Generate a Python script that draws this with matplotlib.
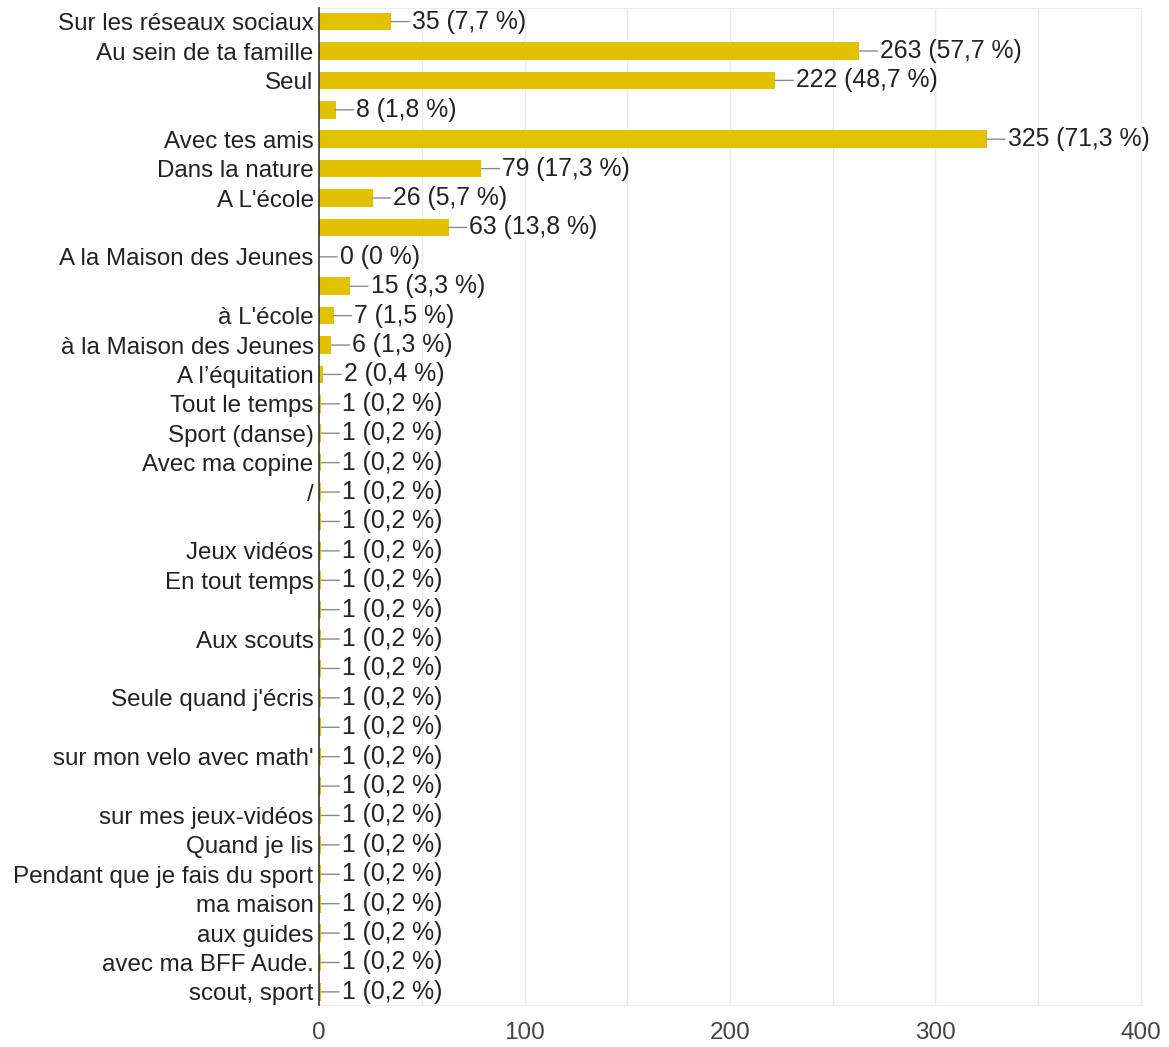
import matplotlib
matplotlib.use("Agg")
import matplotlib.pyplot as plt

plt.rcParams['font.family'] = ['Liberation Sans', 'DejaVu Sans']

categories = [
    "Sur les réseaux sociaux", "Au sein de ta famille", "Seul", "",
    "Avec tes amis", "Dans la nature", "A L'école", "",
    "A la Maison des Jeunes", "", "à L'école", "à la Maison des Jeunes",
    "A l’équitation", "Tout le temps", "Sport (danse)", "Avec ma copine",
    "/", "", "Jeux vidéos", "En tout temps", "", "Aux scouts", "",
    "Seule quand j'écris", "", "sur mon velo avec math'", "",
    "sur mes jeux-vidéos", "Quand je lis", "Pendant que je fais du sport",
    "ma maison", "aux guides", "avec ma BFF Aude.", "scout, sport",
]
values = [35, 263, 222, 8, 325, 79, 26, 63, 0, 15, 7, 6, 2] + [1] * 21
percents = ["7,7", "57,7", "48,7", "1,8", "71,3", "17,3", "5,7", "13,8",
            "0", "3,3", "1,5", "1,3", "0,4"] + ["0,2"] * 21
xticks = [0, 100, 200, 300, 400]

fig = plt.figure(figsize=(11.69, 10.47), dpi=100)
ax = fig.add_axes([0.273, 0.040, 0.703, 0.952])

n = len(categories)
ypos = list(range(n))
ax.barh(ypos, values, height=0.6, color='#E2C200', zorder=2)

for y, v, p in zip(ypos, values, percents):
    ax.annotate(f"{v} ({p} %)", xy=(v, y), xytext=(15, 0),
                textcoords='offset points', va='center', ha='left',
                fontsize=17.8, color='#222222',
                arrowprops=dict(arrowstyle='-', color='#8a8a8a', lw=1.0,
                                shrinkA=0, shrinkB=0))

ax.set_xlim(0, 400)
ax.set_ylim(n - 0.55, -0.45)
ax.set_yticks(ypos)
ax.set_yticklabels(categories, fontsize=17.4, color='#222222')
ax.tick_params(axis='y', length=0, pad=4)
ax.set_xticks(xticks)
ax.set_xticklabels([str(t) for t in xticks], fontsize=17.5, color='#444444')
ax.tick_params(axis='x', length=0, pad=12)

for g in range(50, 401, 50):
    ax.axvline(g, color='#EBEBEB', lw=1.0, zorder=0)

for s in ['top', 'right', 'bottom']:
    ax.spines[s].set_color('#EBEBEB')
ax.spines['left'].set_color('#333333')
ax.spines['left'].set_linewidth(1.2)
ax.spines['left'].set_zorder(3)

fig.savefig("out.png", dpi=100, facecolor='white')
